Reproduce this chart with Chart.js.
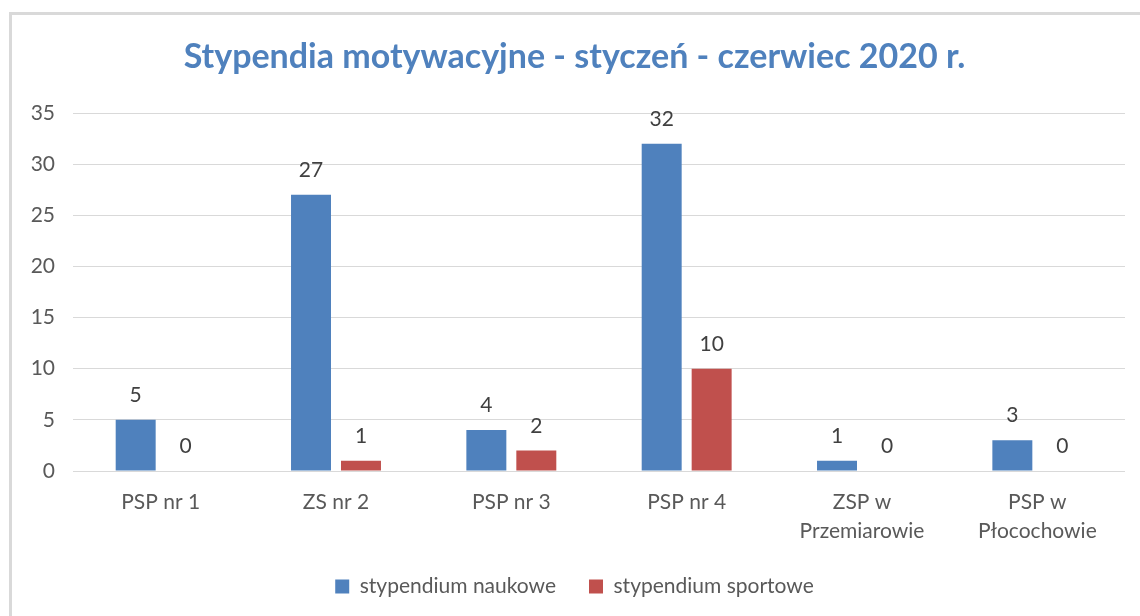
<!DOCTYPE html>
<html>
<head>
<meta charset="utf-8">
<script src="https://cdn.jsdelivr.net/npm/chart.js@4.4.1/dist/chart.umd.min.js"></script>
<style>
  html, body { margin: 0; padding: 0; background: #ffffff; }
  #wrap { position: relative; width: 1140px; height: 616px; }
</style>
</head>
<body>
<div id="wrap"><canvas id="c" width="1140" height="616"></canvas></div>
<script>
const titleText = 'Stypendia motywacyjne - styczeń - czerwiec 2020 r.';
const categories = [['PSP nr 1'], ['ZS nr 2'], ['PSP nr 3'], ['PSP nr 4'], ['ZSP w', 'Przemiarowie'], ['PSP w', 'Płocochowie']];
const seriesNames = ['stypendium naukowe', 'stypendium sportowe'];
const naukowe = [5, 27, 4, 32, 1, 3];
const sportowe = [0, 1, 2, 10, 0, 0];
const yTicks = [0, 5, 10, 15, 20, 25, 30, 35];

const FONT = 'Lato, "Open Sans", sans-serif';

const framePlugin = {
  id: 'frame',
  beforeDraw(chart) {
    const ctx = chart.ctx;
    ctx.save();
    ctx.fillStyle = '#ffffff';
    ctx.fillRect(0, 0, chart.width, chart.height);
    ctx.fillStyle = '#d9d9d9';
    ctx.fillRect(9, 12, 3, chart.height - 12);
    ctx.fillRect(9, 12, chart.width - 9, 3);
    ctx.restore();
  }
};

const valueLabels = {
  id: 'valueLabels',
  afterDatasetsDraw(chart) {
    const ctx = chart.ctx;
    ctx.save();
    ctx.font = '21px ' + FONT;
    ctx.fillStyle = '#404040';
    ctx.textAlign = 'center';
    ctx.textBaseline = 'alphabetic';
    chart.data.datasets.forEach((ds, di) => {
      const meta = chart.getDatasetMeta(di);
      meta.data.forEach((bar, i) => {
        ctx.fillText(String(ds.data[i]), bar.x, bar.y - 18);
      });
    });
    ctx.restore();
  }
};

function build() {
  new Chart(document.getElementById('c'), {
    type: 'bar',
    data: {
      labels: categories,
      datasets: [
        { label: seriesNames[0], data: naukowe, backgroundColor: '#4F81BD', borderWidth: 0,
          categoryPercentage: 0.57, barPercentage: 0.8 },
        { label: seriesNames[1], data: sportowe, backgroundColor: '#C0504D', borderWidth: 0,
          categoryPercentage: 0.57, barPercentage: 0.8 }
      ]
    },
    options: {
      responsive: false,
      animation: false,
      devicePixelRatio: 1,
      layout: { padding: { left: 24, right: 15, top: 0, bottom: 9 } },
      plugins: {
        title: {
          display: true,
          text: titleText,
          color: '#4F81BD',
          font: { family: FONT, size: 34, weight: 'bold', lineHeight: 1.2 },
          padding: { top: 36.6, bottom: 35.6 }
        },
        legend: {
          position: 'bottom',
          labels: {
            color: '#595959',
            font: { family: FONT, size: 21 },
            boxWidth: 14,
            boxHeight: 14,
            padding: 33
          }
        },
        tooltip: { enabled: false }
      },
      scales: {
        x: {
          grid: { display: false },
          border: { display: false },
          ticks: {
            color: '#595959',
            font: { family: FONT, size: 21, lineHeight: 1.38 },
            padding: 9,
            maxRotation: 0,
            autoSkip: false
          },
          afterFit(scale) { scale.height = 72; }
        },
        y: {
          min: 0,
          max: 35,
          afterBuildTicks(scale) { scale.ticks = yTicks.map(v => ({ value: v })); },
          grid: { color: '#d9d9d9', lineWidth: 1, drawTicks: false },
          border: { display: false },
          ticks: {
            color: '#595959',
            font: { family: FONT, size: 21 },
            padding: 18
          },
          afterFit(scale) { scale.width = 49; }
        }
      }
    },
    plugins: [framePlugin, valueLabels]
  });
}

if (document.fonts && document.fonts.load) {
  Promise.all([
    document.fonts.load('21px Lato'),
    document.fonts.load('bold 34px Lato')
  ]).then(build, build);
} else {
  build();
}
</script>
</body>
</html>
